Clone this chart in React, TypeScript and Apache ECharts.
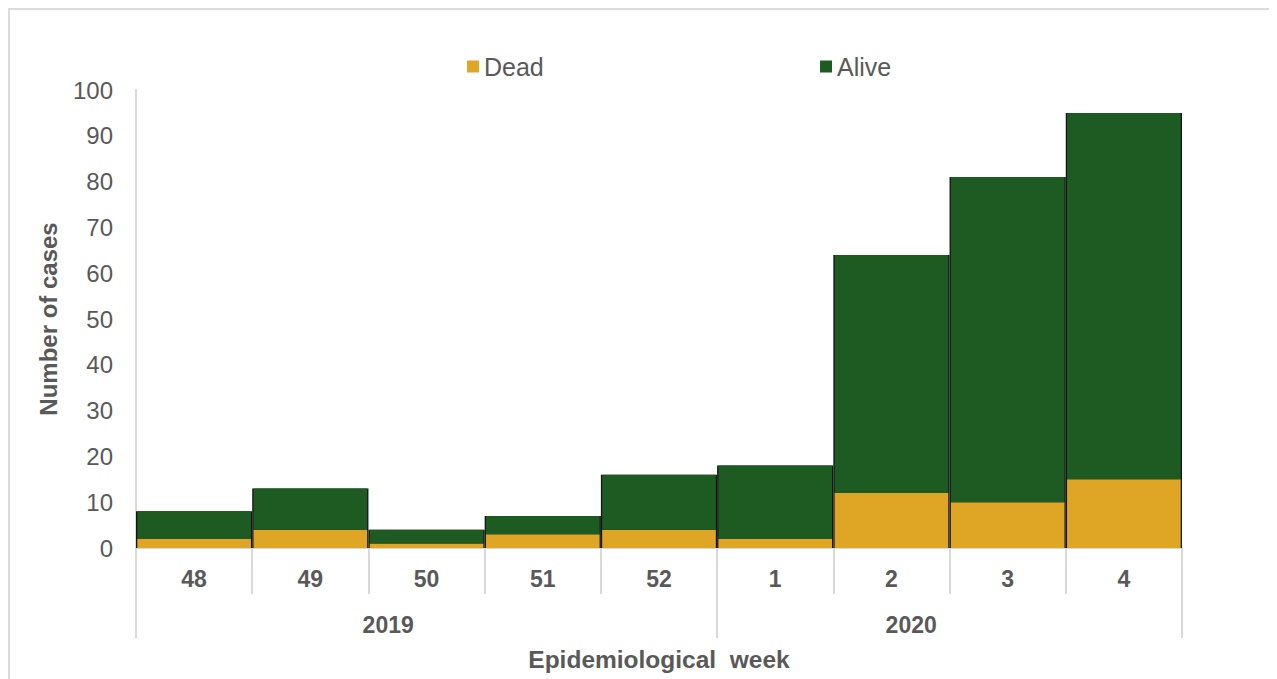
import React, { useEffect, useRef } from "react";
import * as echarts from "echarts";

const weeks = ["48", "49", "50", "51", "52", "1", "2", "3", "4"];
const years = ["2019", "2020"];
const weeksPerYear = [5, 4];
const dead = [2, 4, 1, 3, 4, 2, 12, 10, 15];
const alive = [6, 9, 3, 4, 12, 16, 52, 71, 80];
const yTicks = { min: 0, max: 100, interval: 10 };

const TEXT = "#595959";
const AXIS = "#D9D9D9";
const FONT = "'Liberation Sans', Arial, sans-serif";
const YEAR_LABEL_SHIFT = -0.33;

export default function App() {
  const ref = useRef<HTMLDivElement>(null);
  useEffect(() => {
    if (!ref.current) return;
    const chart = echarts.init(ref.current, undefined, { renderer: "svg" });
    const totals = dead.map((d, i) => d + alive[i]);
    const starts: number[] = [];
    let acc = 0;
    weeksPerYear.forEach((n) => {
      starts.push(acc);
      acc += n;
    });
    const boundaries = [...starts, acc];
    const yearCenters = starts.map((s, i) => s + weeksPerYear[i] / 2 + YEAR_LABEL_SHIFT);

    const legendBase = {
      top: 39,
      icon: "rect",
      itemWidth: 12,
      itemHeight: 12,
      itemGap: 5,
      textStyle: { color: TEXT, fontSize: 25, fontFamily: FONT },
    };

    chart.setOption({
      animation: false,
      textStyle: { fontFamily: FONT },
      legend: [
        { ...legendBase, data: ["Dead"], left: 452 },
        { ...legendBase, data: ["Alive"], left: 805 },
      ],
      grid: { left: 126, top: 80, right: 95, bottom: 131, outerBoundsMode: "none", containLabel: false },
      xAxis: [
        {
          type: "category",
          data: weeks,
          axisLine: { show: true, lineStyle: { color: AXIS, width: 2 } },
          axisTick: { show: true, interval: 0, length: 46, lineStyle: { color: AXIS, width: 2 } },
          axisLabel: { interval: 0, color: TEXT, fontSize: 23, fontWeight: "bold", margin: 19, fontFamily: FONT },
          name: "Epidemiological  week",
          nameLocation: "middle",
          nameGap: 99,
          nameTextStyle: { color: TEXT, fontSize: 24.5, fontWeight: "bold", fontFamily: FONT },
          splitLine: { show: false },
        },
        {
          type: "value",
          min: 0,
          max: weeks.length,
          position: "bottom",
          axisLine: { show: false },
          splitLine: { show: false },
          axisTick: { show: true, customValues: boundaries, length: 90, lineStyle: { color: AXIS, width: 2 } },
          axisLabel: {
            customValues: yearCenters,
            formatter: (v: number) => {
              let idx = 0;
              starts.forEach((s, i) => {
                if (v >= s) idx = i;
              });
              return years[idx];
            },
            color: TEXT,
            fontSize: 23,
            fontWeight: "bold",
            margin: 65,
            fontFamily: FONT,
          },
        },
        {
          type: "category",
          data: weeks,
          show: false,
        },
      ],
      yAxis: {
        type: "value",
        min: yTicks.min,
        max: yTicks.max,
        interval: yTicks.interval,
        axisLine: { show: true, lineStyle: { color: AXIS, width: 2 } },
        axisTick: { show: false },
        splitLine: { show: false },
        axisLabel: { color: TEXT, fontSize: 24, margin: 23, fontFamily: FONT },
        name: "Number of cases",
        nameLocation: "middle",
        nameGap: 76,
        nameTextStyle: { color: TEXT, fontSize: 24, fontWeight: "bold", fontFamily: FONT },
      },
      series: [
        {
          name: "outline",
          type: "bar",
          xAxisIndex: 2,
          data: totals,
          barCategoryGap: 0,
          itemStyle: { color: "#151515" },
          silent: true,
          z: 1,
        },
        {
          name: "Dead",
          type: "bar",
          stack: "cases",
          xAxisIndex: 0,
          data: dead,
          barCategoryGap: "2.2%",
          itemStyle: { color: "#DFA626" },
          z: 2,
        },
        {
          name: "Alive",
          type: "bar",
          stack: "cases",
          xAxisIndex: 0,
          data: alive,
          barCategoryGap: "2.2%",
          itemStyle: { color: "#1E5B22" },
          z: 2,
        },
      ],
    });
    return () => chart.dispose();
  }, []);

  return (
    <div
      ref={ref}
      style={{
        width: 1269,
        height: 671,
        boxSizing: "border-box",
        borderTop: "2px solid #DCDCDC",
        borderLeft: "2px solid #DCDCDC",
      }}
    />
  );
}
